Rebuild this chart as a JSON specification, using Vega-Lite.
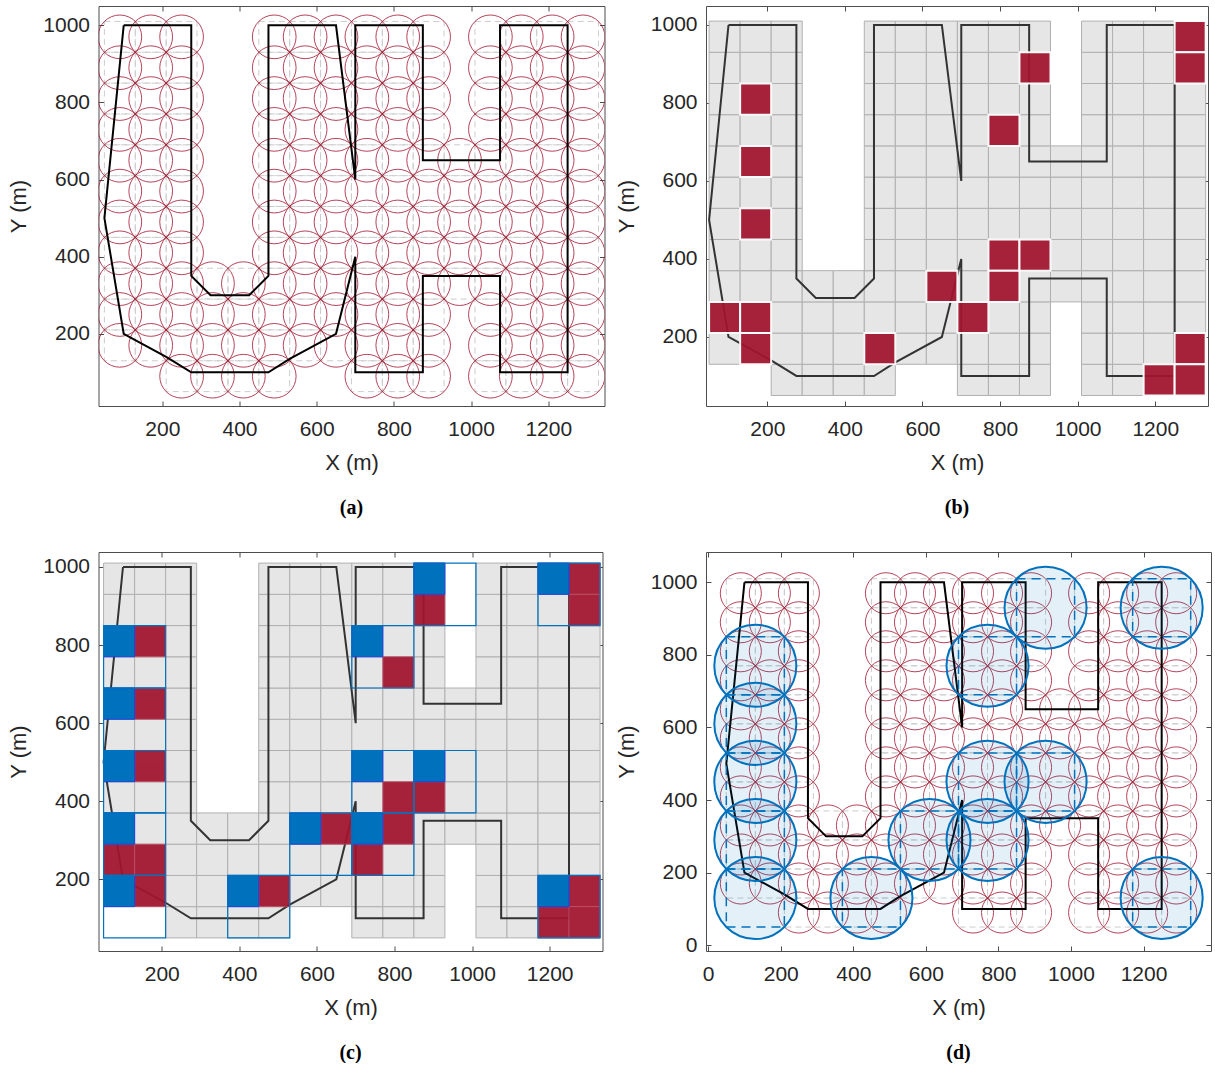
{
"$schema": "https://vega.github.io/schema/vega-lite/v6.json",
"padding": {"left": 7.5, "top": 5, "right": 0, "bottom": 0},
"bounds": "flush",
"columns": 2,
"spacing": {"row": 146, "column": 101.5},
"datasets": {
"cells": [
{"x0":50,"x1":130,"cx":90,"y0":130,"y1":210,"cy":170},{"x0":50,"x1":130,"cx":90,"y0":210,"y1":290,"cy":250},{"x0":50,"x1":130,"cx":90,"y0":290,"y1":370,"cy":330},{"x0":50,"x1":130,"cx":90,"y0":370,"y1":450,"cy":410},{"x0":50,"x1":130,"cx":90,"y0":450,"y1":530,"cy":490},{"x0":50,"x1":130,"cx":90,"y0":530,"y1":610,"cy":570},{"x0":50,"x1":130,"cx":90,"y0":610,"y1":690,"cy":650},{"x0":50,"x1":130,"cx":90,"y0":690,"y1":770,"cy":730},{"x0":50,"x1":130,"cx":90,"y0":770,"y1":850,"cy":810},{"x0":50,"x1":130,"cx":90,"y0":850,"y1":930,"cy":890},{"x0":50,"x1":130,"cx":90,"y0":930,"y1":1010,"cy":970},
{"x0":130,"x1":210,"cx":170,"y0":130,"y1":210,"cy":170},{"x0":130,"x1":210,"cx":170,"y0":210,"y1":290,"cy":250},{"x0":130,"x1":210,"cx":170,"y0":290,"y1":370,"cy":330},{"x0":130,"x1":210,"cx":170,"y0":370,"y1":450,"cy":410},{"x0":130,"x1":210,"cx":170,"y0":450,"y1":530,"cy":490},{"x0":130,"x1":210,"cx":170,"y0":530,"y1":610,"cy":570},{"x0":130,"x1":210,"cx":170,"y0":610,"y1":690,"cy":650},{"x0":130,"x1":210,"cx":170,"y0":690,"y1":770,"cy":730},{"x0":130,"x1":210,"cx":170,"y0":770,"y1":850,"cy":810},{"x0":130,"x1":210,"cx":170,"y0":850,"y1":930,"cy":890},{"x0":130,"x1":210,"cx":170,"y0":930,"y1":1010,"cy":970},
{"x0":210,"x1":290,"cx":250,"y0":50,"y1":130,"cy":90},{"x0":210,"x1":290,"cx":250,"y0":130,"y1":210,"cy":170},{"x0":210,"x1":290,"cx":250,"y0":210,"y1":290,"cy":250},{"x0":210,"x1":290,"cx":250,"y0":290,"y1":370,"cy":330},{"x0":210,"x1":290,"cx":250,"y0":370,"y1":450,"cy":410},{"x0":210,"x1":290,"cx":250,"y0":450,"y1":530,"cy":490},{"x0":210,"x1":290,"cx":250,"y0":530,"y1":610,"cy":570},{"x0":210,"x1":290,"cx":250,"y0":610,"y1":690,"cy":650},{"x0":210,"x1":290,"cx":250,"y0":690,"y1":770,"cy":730},{"x0":210,"x1":290,"cx":250,"y0":770,"y1":850,"cy":810},{"x0":210,"x1":290,"cx":250,"y0":850,"y1":930,"cy":890},{"x0":210,"x1":290,"cx":250,"y0":930,"y1":1010,"cy":970},
{"x0":290,"x1":370,"cx":330,"y0":50,"y1":130,"cy":90},{"x0":290,"x1":370,"cx":330,"y0":130,"y1":210,"cy":170},{"x0":290,"x1":370,"cx":330,"y0":210,"y1":290,"cy":250},{"x0":290,"x1":370,"cx":330,"y0":290,"y1":370,"cy":330},
{"x0":370,"x1":450,"cx":410,"y0":50,"y1":130,"cy":90},{"x0":370,"x1":450,"cx":410,"y0":130,"y1":210,"cy":170},{"x0":370,"x1":450,"cx":410,"y0":210,"y1":290,"cy":250},{"x0":370,"x1":450,"cx":410,"y0":290,"y1":370,"cy":330},
{"x0":450,"x1":530,"cx":490,"y0":50,"y1":130,"cy":90},{"x0":450,"x1":530,"cx":490,"y0":130,"y1":210,"cy":170},{"x0":450,"x1":530,"cx":490,"y0":210,"y1":290,"cy":250},{"x0":450,"x1":530,"cx":490,"y0":290,"y1":370,"cy":330},{"x0":450,"x1":530,"cx":490,"y0":370,"y1":450,"cy":410},{"x0":450,"x1":530,"cx":490,"y0":450,"y1":530,"cy":490},{"x0":450,"x1":530,"cx":490,"y0":530,"y1":610,"cy":570},{"x0":450,"x1":530,"cx":490,"y0":610,"y1":690,"cy":650},{"x0":450,"x1":530,"cx":490,"y0":690,"y1":770,"cy":730},{"x0":450,"x1":530,"cx":490,"y0":770,"y1":850,"cy":810},{"x0":450,"x1":530,"cx":490,"y0":850,"y1":930,"cy":890},{"x0":450,"x1":530,"cx":490,"y0":930,"y1":1010,"cy":970},
{"x0":530,"x1":610,"cx":570,"y0":130,"y1":210,"cy":170},{"x0":530,"x1":610,"cx":570,"y0":210,"y1":290,"cy":250},{"x0":530,"x1":610,"cx":570,"y0":290,"y1":370,"cy":330},{"x0":530,"x1":610,"cx":570,"y0":370,"y1":450,"cy":410},{"x0":530,"x1":610,"cx":570,"y0":450,"y1":530,"cy":490},{"x0":530,"x1":610,"cx":570,"y0":530,"y1":610,"cy":570},{"x0":530,"x1":610,"cx":570,"y0":610,"y1":690,"cy":650},{"x0":530,"x1":610,"cx":570,"y0":690,"y1":770,"cy":730},{"x0":530,"x1":610,"cx":570,"y0":770,"y1":850,"cy":810},{"x0":530,"x1":610,"cx":570,"y0":850,"y1":930,"cy":890},{"x0":530,"x1":610,"cx":570,"y0":930,"y1":1010,"cy":970},
{"x0":610,"x1":690,"cx":650,"y0":130,"y1":210,"cy":170},{"x0":610,"x1":690,"cx":650,"y0":210,"y1":290,"cy":250},{"x0":610,"x1":690,"cx":650,"y0":290,"y1":370,"cy":330},{"x0":610,"x1":690,"cx":650,"y0":370,"y1":450,"cy":410},{"x0":610,"x1":690,"cx":650,"y0":450,"y1":530,"cy":490},{"x0":610,"x1":690,"cx":650,"y0":530,"y1":610,"cy":570},{"x0":610,"x1":690,"cx":650,"y0":610,"y1":690,"cy":650},{"x0":610,"x1":690,"cx":650,"y0":690,"y1":770,"cy":730},{"x0":610,"x1":690,"cx":650,"y0":770,"y1":850,"cy":810},{"x0":610,"x1":690,"cx":650,"y0":850,"y1":930,"cy":890},{"x0":610,"x1":690,"cx":650,"y0":930,"y1":1010,"cy":970},
{"x0":690,"x1":770,"cx":730,"y0":50,"y1":130,"cy":90},{"x0":690,"x1":770,"cx":730,"y0":130,"y1":210,"cy":170},{"x0":690,"x1":770,"cx":730,"y0":210,"y1":290,"cy":250},{"x0":690,"x1":770,"cx":730,"y0":290,"y1":370,"cy":330},{"x0":690,"x1":770,"cx":730,"y0":370,"y1":450,"cy":410},{"x0":690,"x1":770,"cx":730,"y0":450,"y1":530,"cy":490},{"x0":690,"x1":770,"cx":730,"y0":530,"y1":610,"cy":570},{"x0":690,"x1":770,"cx":730,"y0":610,"y1":690,"cy":650},{"x0":690,"x1":770,"cx":730,"y0":690,"y1":770,"cy":730},{"x0":690,"x1":770,"cx":730,"y0":770,"y1":850,"cy":810},{"x0":690,"x1":770,"cx":730,"y0":850,"y1":930,"cy":890},{"x0":690,"x1":770,"cx":730,"y0":930,"y1":1010,"cy":970},
{"x0":770,"x1":850,"cx":810,"y0":50,"y1":130,"cy":90},{"x0":770,"x1":850,"cx":810,"y0":130,"y1":210,"cy":170},{"x0":770,"x1":850,"cx":810,"y0":210,"y1":290,"cy":250},{"x0":770,"x1":850,"cx":810,"y0":290,"y1":370,"cy":330},{"x0":770,"x1":850,"cx":810,"y0":370,"y1":450,"cy":410},{"x0":770,"x1":850,"cx":810,"y0":450,"y1":530,"cy":490},{"x0":770,"x1":850,"cx":810,"y0":530,"y1":610,"cy":570},{"x0":770,"x1":850,"cx":810,"y0":610,"y1":690,"cy":650},{"x0":770,"x1":850,"cx":810,"y0":690,"y1":770,"cy":730},{"x0":770,"x1":850,"cx":810,"y0":770,"y1":850,"cy":810},{"x0":770,"x1":850,"cx":810,"y0":850,"y1":930,"cy":890},{"x0":770,"x1":850,"cx":810,"y0":930,"y1":1010,"cy":970},
{"x0":850,"x1":930,"cx":890,"y0":50,"y1":130,"cy":90},{"x0":850,"x1":930,"cx":890,"y0":130,"y1":210,"cy":170},{"x0":850,"x1":930,"cx":890,"y0":210,"y1":290,"cy":250},{"x0":850,"x1":930,"cx":890,"y0":290,"y1":370,"cy":330},{"x0":850,"x1":930,"cx":890,"y0":370,"y1":450,"cy":410},{"x0":850,"x1":930,"cx":890,"y0":450,"y1":530,"cy":490},{"x0":850,"x1":930,"cx":890,"y0":530,"y1":610,"cy":570},{"x0":850,"x1":930,"cx":890,"y0":610,"y1":690,"cy":650},{"x0":850,"x1":930,"cx":890,"y0":690,"y1":770,"cy":730},{"x0":850,"x1":930,"cx":890,"y0":770,"y1":850,"cy":810},{"x0":850,"x1":930,"cx":890,"y0":850,"y1":930,"cy":890},{"x0":850,"x1":930,"cx":890,"y0":930,"y1":1010,"cy":970},
{"x0":930,"x1":1010,"cx":970,"y0":290,"y1":370,"cy":330},{"x0":930,"x1":1010,"cx":970,"y0":370,"y1":450,"cy":410},{"x0":930,"x1":1010,"cx":970,"y0":450,"y1":530,"cy":490},{"x0":930,"x1":1010,"cx":970,"y0":530,"y1":610,"cy":570},{"x0":930,"x1":1010,"cx":970,"y0":610,"y1":690,"cy":650},
{"x0":1010,"x1":1090,"cx":1050,"y0":50,"y1":130,"cy":90},{"x0":1010,"x1":1090,"cx":1050,"y0":130,"y1":210,"cy":170},{"x0":1010,"x1":1090,"cx":1050,"y0":210,"y1":290,"cy":250},{"x0":1010,"x1":1090,"cx":1050,"y0":290,"y1":370,"cy":330},{"x0":1010,"x1":1090,"cx":1050,"y0":370,"y1":450,"cy":410},{"x0":1010,"x1":1090,"cx":1050,"y0":450,"y1":530,"cy":490},{"x0":1010,"x1":1090,"cx":1050,"y0":530,"y1":610,"cy":570},{"x0":1010,"x1":1090,"cx":1050,"y0":610,"y1":690,"cy":650},{"x0":1010,"x1":1090,"cx":1050,"y0":690,"y1":770,"cy":730},{"x0":1010,"x1":1090,"cx":1050,"y0":770,"y1":850,"cy":810},{"x0":1010,"x1":1090,"cx":1050,"y0":850,"y1":930,"cy":890},{"x0":1010,"x1":1090,"cx":1050,"y0":930,"y1":1010,"cy":970},
{"x0":1090,"x1":1170,"cx":1130,"y0":50,"y1":130,"cy":90},{"x0":1090,"x1":1170,"cx":1130,"y0":130,"y1":210,"cy":170},{"x0":1090,"x1":1170,"cx":1130,"y0":210,"y1":290,"cy":250},{"x0":1090,"x1":1170,"cx":1130,"y0":290,"y1":370,"cy":330},{"x0":1090,"x1":1170,"cx":1130,"y0":370,"y1":450,"cy":410},{"x0":1090,"x1":1170,"cx":1130,"y0":450,"y1":530,"cy":490},{"x0":1090,"x1":1170,"cx":1130,"y0":530,"y1":610,"cy":570},{"x0":1090,"x1":1170,"cx":1130,"y0":610,"y1":690,"cy":650},{"x0":1090,"x1":1170,"cx":1130,"y0":690,"y1":770,"cy":730},{"x0":1090,"x1":1170,"cx":1130,"y0":770,"y1":850,"cy":810},{"x0":1090,"x1":1170,"cx":1130,"y0":850,"y1":930,"cy":890},{"x0":1090,"x1":1170,"cx":1130,"y0":930,"y1":1010,"cy":970},
{"x0":1170,"x1":1250,"cx":1210,"y0":50,"y1":130,"cy":90},{"x0":1170,"x1":1250,"cx":1210,"y0":130,"y1":210,"cy":170},{"x0":1170,"x1":1250,"cx":1210,"y0":210,"y1":290,"cy":250},{"x0":1170,"x1":1250,"cx":1210,"y0":290,"y1":370,"cy":330},{"x0":1170,"x1":1250,"cx":1210,"y0":370,"y1":450,"cy":410},{"x0":1170,"x1":1250,"cx":1210,"y0":450,"y1":530,"cy":490},{"x0":1170,"x1":1250,"cx":1210,"y0":530,"y1":610,"cy":570},{"x0":1170,"x1":1250,"cx":1210,"y0":610,"y1":690,"cy":650},{"x0":1170,"x1":1250,"cx":1210,"y0":690,"y1":770,"cy":730},{"x0":1170,"x1":1250,"cx":1210,"y0":770,"y1":850,"cy":810},{"x0":1170,"x1":1250,"cx":1210,"y0":850,"y1":930,"cy":890},{"x0":1170,"x1":1250,"cx":1210,"y0":930,"y1":1010,"cy":970},
{"x0":1250,"x1":1330,"cx":1290,"y0":50,"y1":130,"cy":90},{"x0":1250,"x1":1330,"cx":1290,"y0":130,"y1":210,"cy":170},{"x0":1250,"x1":1330,"cx":1290,"y0":210,"y1":290,"cy":250},{"x0":1250,"x1":1330,"cx":1290,"y0":290,"y1":370,"cy":330},{"x0":1250,"x1":1330,"cx":1290,"y0":370,"y1":450,"cy":410},{"x0":1250,"x1":1330,"cx":1290,"y0":450,"y1":530,"cy":490},{"x0":1250,"x1":1330,"cx":1290,"y0":530,"y1":610,"cy":570},{"x0":1250,"x1":1330,"cx":1290,"y0":610,"y1":690,"cy":650},{"x0":1250,"x1":1330,"cx":1290,"y0":690,"y1":770,"cy":730},{"x0":1250,"x1":1330,"cx":1290,"y0":770,"y1":850,"cy":810},{"x0":1250,"x1":1330,"cx":1290,"y0":850,"y1":930,"cy":890},{"x0":1250,"x1":1330,"cx":1290,"y0":930,"y1":1010,"cy":970}
],
"path": [
{"o":1,"x":100,"y":1000},{"o":2,"x":275,"y":1000},{"o":3,"x":275,"y":350},{"o":4,"x":325,"y":300},{"o":5,"x":425,"y":300},{"o":6,"x":475,"y":350},{"o":7,"x":475,"y":1000},{"o":8,"x":650,"y":1000},{"o":9,"x":700,"y":600},{"o":10,"x":700,"y":1000},{"o":11,"x":875,"y":1000},{"o":12,"x":875,"y":650},{"o":13,"x":1075,"y":650},{"o":14,"x":1075,"y":1000},{"o":15,"x":1250,"y":1000},{"o":16,"x":1250,"y":100},{"o":17,"x":1075,"y":100},{"o":18,"x":1075,"y":350},{"o":19,"x":875,"y":350},{"o":20,"x":875,"y":100},{"o":21,"x":700,"y":100},{"o":22,"x":700,"y":400},{"o":23,"x":650,"y":200},{"o":24,"x":530,"y":135},{"o":25,"x":475,"y":100},{"o":26,"x":275,"y":100},{"o":27,"x":210,"y":140},{"o":28,"x":100,"y":200},{"o":29,"x":50,"y":500},{"o":30,"x":100,"y":1000}
],
"red": [
{"x0":130,"x1":210,"y0":770,"y1":850},{"x0":130,"x1":210,"y0":610,"y1":690},{"x0":130,"x1":210,"y0":450,"y1":530},{"x0":50,"x1":130,"y0":210,"y1":290},{"x0":130,"x1":210,"y0":210,"y1":290},{"x0":130,"x1":210,"y0":130,"y1":210},{"x0":450,"x1":530,"y0":130,"y1":210},{"x0":610,"x1":690,"y0":290,"y1":370},{"x0":690,"x1":770,"y0":210,"y1":290},{"x0":770,"x1":850,"y0":370,"y1":450},{"x0":770,"x1":850,"y0":290,"y1":370},{"x0":850,"x1":930,"y0":370,"y1":450},{"x0":770,"x1":850,"y0":690,"y1":770},{"x0":850,"x1":930,"y0":850,"y1":930},{"x0":1250,"x1":1330,"y0":930,"y1":1010},{"x0":1250,"x1":1330,"y0":850,"y1":930},{"x0":1250,"x1":1330,"y0":130,"y1":210},{"x0":1170,"x1":1250,"y0":50,"y1":130},{"x0":1250,"x1":1330,"y0":50,"y1":130}
],
"blue": [
{"x0":50,"x1":130,"y0":770,"y1":850},{"x0":50,"x1":130,"y0":610,"y1":690},{"x0":50,"x1":130,"y0":450,"y1":530},{"x0":50,"x1":130,"y0":290,"y1":370},{"x0":50,"x1":130,"y0":130,"y1":210},{"x0":370,"x1":450,"y0":130,"y1":210},{"x0":530,"x1":610,"y0":290,"y1":370},{"x0":690,"x1":770,"y0":290,"y1":370},{"x0":690,"x1":770,"y0":450,"y1":530},{"x0":850,"x1":930,"y0":450,"y1":530},{"x0":690,"x1":770,"y0":770,"y1":850},{"x0":850,"x1":930,"y0":930,"y1":1010},{"x0":1170,"x1":1250,"y0":930,"y1":1010},{"x0":1170,"x1":1250,"y0":130,"y1":210}
],
"blocks": [
{"x0":50,"x1":210,"y0":690,"y1":850,"cx":130,"cy":770},{"x0":50,"x1":210,"y0":530,"y1":690,"cx":130,"cy":610},{"x0":50,"x1":210,"y0":370,"y1":530,"cx":130,"cy":450},{"x0":50,"x1":210,"y0":210,"y1":370,"cx":130,"cy":290},{"x0":50,"x1":210,"y0":50,"y1":210,"cx":130,"cy":130},{"x0":370,"x1":530,"y0":50,"y1":210,"cx":450,"cy":130},{"x0":530,"x1":690,"y0":210,"y1":370,"cx":610,"cy":290},{"x0":690,"x1":850,"y0":210,"y1":370,"cx":770,"cy":290},{"x0":690,"x1":850,"y0":370,"y1":530,"cx":770,"cy":450},{"x0":850,"x1":1010,"y0":370,"y1":530,"cx":930,"cy":450},{"x0":690,"x1":850,"y0":690,"y1":850,"cx":770,"cy":770},{"x0":850,"x1":1010,"y0":850,"y1":1010,"cx":930,"cy":930},{"x0":1170,"x1":1330,"y0":850,"y1":1010,"cx":1250,"cy":930},{"x0":1170,"x1":1330,"y0":50,"y1":210,"cx":1250,"cy":130}
]
},
"concat": [
{
"width": 506, "height": 400,
"title": {"text": "(a)", "orient": "bottom", "anchor": "middle", "offset": 25},
"resolve": {"axis": {"x": "independent", "y": "independent"}},
"layer": [
{"data": {"name": "cells"}, "mark": {"type": "rect", "fill": null, "stroke": "#cccccc", "strokeDash": [6, 4], "strokeWidth": 1, "clip": true},
"encoding": {
"x": {"field": "x0", "type": "quantitative", "scale": {"domain": [34.7, 1345.6], "nice": false, "zero": false}, "axis": {"orient": "bottom", "values": [200, 400, 600, 800, 1000, 1200], "format": "d", "title": "X (m)"}},
"x2": {"field": "x1"},
"y": {"field": "y0", "type": "quantitative", "scale": {"domain": [12.7, 1050], "nice": false, "zero": false}, "axis": {"orient": "left", "values": [200, 400, 600, 800, 1000], "format": "d", "title": "Y (m)"}},
"y2": {"field": "y1"}}},
{"data": {"name": "cells"}, "mark": {"type": "point", "shape": "circle", "filled": false, "stroke": "#a2142f", "strokeWidth": 0.8, "size": 1907, "opacity": 1, "clip": true},
"encoding": {
"x": {"field": "cx", "type": "quantitative", "scale": {"domain": [34.7, 1345.6], "nice": false, "zero": false}, "axis": {"orient": "top", "values": [200, 400, 600, 800, 1000, 1200], "labels": false, "title": null}},
"y": {"field": "cy", "type": "quantitative", "scale": {"domain": [12.7, 1050], "nice": false, "zero": false}, "axis": {"orient": "right", "values": [200, 400, 600, 800, 1000], "labels": false, "title": null}}}},
{"data": {"name": "path"}, "mark": {"type": "line", "color": "#000000", "strokeWidth": 2, "clip": true},
"encoding": {
"x": {"field": "x", "type": "quantitative", "scale": {"domain": [34.7, 1345.6], "nice": false, "zero": false}, "axis": null},
"y": {"field": "y", "type": "quantitative", "scale": {"domain": [12.7, 1050], "nice": false, "zero": false}, "axis": null},
"order": {"field": "o", "type": "quantitative"}}}
]
},
{
"width": 502, "height": 400,
"title": {"text": "(b)", "orient": "bottom", "anchor": "middle", "offset": 25},
"resolve": {"axis": {"x": "independent", "y": "independent"}},
"layer": [
{"data": {"name": "cells"}, "mark": {"type": "rect", "fill": "#e6e6e6", "stroke": "#b0b0b0", "strokeWidth": 1, "clip": true},
"encoding": {
"x": {"field": "x0", "type": "quantitative", "scale": {"domain": [42, 1336], "nice": false, "zero": false}, "axis": {"orient": "bottom", "values": [200, 400, 600, 800, 1000, 1200], "format": "d", "title": "X (m)"}},
"x2": {"field": "x1"},
"y": {"field": "y0", "type": "quantitative", "scale": {"domain": [23, 1048.7], "nice": false, "zero": false}, "axis": {"orient": "left", "values": [200, 400, 600, 800, 1000], "format": "d", "title": "Y (m)"}},
"y2": {"field": "y1"}}},
{"data": {"name": "path"}, "mark": {"type": "line", "color": "#333333", "strokeWidth": 2, "clip": true},
"encoding": {
"x": {"field": "x", "type": "quantitative", "scale": {"domain": [42, 1336], "nice": false, "zero": false}, "axis": {"orient": "top", "values": [200, 400, 600, 800, 1000, 1200], "labels": false, "title": null}},
"y": {"field": "y", "type": "quantitative", "scale": {"domain": [23, 1048.7], "nice": false, "zero": false}, "axis": {"orient": "right", "values": [200, 400, 600, 800, 1000], "labels": false, "title": null}},
"order": {"field": "o", "type": "quantitative"}}},
{"data": {"name": "red"}, "mark": {"type": "rect", "fill": "#a2142f", "opacity": 0.93, "stroke": "#ffffff", "strokeWidth": 2, "clip": true},
"encoding": {
"x": {"field": "x0", "type": "quantitative", "scale": {"domain": [42, 1336], "nice": false, "zero": false}, "axis": null},
"x2": {"field": "x1"},
"y": {"field": "y0", "type": "quantitative", "scale": {"domain": [23, 1048.7], "nice": false, "zero": false}, "axis": null},
"y2": {"field": "y1"}}}
]
},
{
"width": 504, "height": 399,
"title": {"text": "(c)", "orient": "bottom", "anchor": "middle", "offset": 25},
"resolve": {"axis": {"x": "independent", "y": "independent"}},
"layer": [
{"data": {"name": "cells"}, "mark": {"type": "rect", "fill": "#e6e6e6", "stroke": "#b0b0b0", "strokeWidth": 1, "clip": true},
"encoding": {
"x": {"field": "x0", "type": "quantitative", "scale": {"domain": [36.9, 1336.3], "nice": false, "zero": false}, "axis": {"orient": "bottom", "values": [200, 400, 600, 800, 1000, 1200], "format": "d", "title": "X (m)"}},
"x2": {"field": "x1"},
"y": {"field": "y0", "type": "quantitative", "scale": {"domain": [16.4, 1038.4], "nice": false, "zero": false}, "axis": {"orient": "left", "values": [200, 400, 600, 800, 1000], "format": "d", "title": "Y (m)"}},
"y2": {"field": "y1"}}},
{"data": {"name": "path"}, "mark": {"type": "line", "color": "#333333", "strokeWidth": 2, "clip": true},
"encoding": {
"x": {"field": "x", "type": "quantitative", "scale": {"domain": [36.9, 1336.3], "nice": false, "zero": false}, "axis": {"orient": "top", "values": [200, 400, 600, 800, 1000, 1200], "labels": false, "title": null}},
"y": {"field": "y", "type": "quantitative", "scale": {"domain": [16.4, 1038.4], "nice": false, "zero": false}, "axis": {"orient": "right", "values": [200, 400, 600, 800, 1000], "labels": false, "title": null}},
"order": {"field": "o", "type": "quantitative"}}},
{"data": {"name": "red"}, "mark": {"type": "rect", "fill": "#a2142f", "opacity": 0.93, "stroke": "#c0506a", "strokeWidth": 0.8, "clip": true},
"encoding": {
"x": {"field": "x0", "type": "quantitative", "scale": {"domain": [36.9, 1336.3], "nice": false, "zero": false}, "axis": null},
"x2": {"field": "x1"},
"y": {"field": "y0", "type": "quantitative", "scale": {"domain": [16.4, 1038.4], "nice": false, "zero": false}, "axis": null},
"y2": {"field": "y1"}}},
{"data": {"name": "blue"}, "mark": {"type": "rect", "fill": "#0072bd", "stroke": "#1a3fe0", "strokeWidth": 1, "clip": true},
"encoding": {
"x": {"field": "x0", "type": "quantitative", "scale": {"domain": [36.9, 1336.3], "nice": false, "zero": false}, "axis": null},
"x2": {"field": "x1"},
"y": {"field": "y0", "type": "quantitative", "scale": {"domain": [16.4, 1038.4], "nice": false, "zero": false}, "axis": null},
"y2": {"field": "y1"}}},
{"data": {"name": "blocks"}, "mark": {"type": "rect", "fill": null, "stroke": "#0072bd", "strokeWidth": 1.2, "clip": true},
"encoding": {
"x": {"field": "x0", "type": "quantitative", "scale": {"domain": [36.9, 1336.3], "nice": false, "zero": false}, "axis": null},
"x2": {"field": "x1"},
"y": {"field": "y0", "type": "quantitative", "scale": {"domain": [16.4, 1038.4], "nice": false, "zero": false}, "axis": null},
"y2": {"field": "y1"}}}
]
},
{
"width": 505, "height": 399,
"title": {"text": "(d)", "orient": "bottom", "anchor": "middle", "offset": 25},
"resolve": {"axis": {"x": "independent", "y": "independent"}},
"layer": [
{"data": {"name": "cells"}, "mark": {"type": "rect", "fill": null, "stroke": "#cccccc", "strokeDash": [6, 4], "strokeWidth": 1, "clip": true},
"encoding": {
"x": {"field": "x0", "type": "quantitative", "scale": {"domain": [-6, 1386], "nice": false, "zero": false}, "axis": {"orient": "bottom", "values": [0, 200, 400, 600, 800, 1000, 1200], "format": "d", "title": "X (m)"}},
"x2": {"field": "x1"},
"y": {"field": "y0", "type": "quantitative", "scale": {"domain": [-16, 1083.6], "nice": false, "zero": false}, "axis": {"orient": "left", "values": [0, 200, 400, 600, 800, 1000], "format": "d", "title": "Y (m)"}},
"y2": {"field": "y1"}}},
{"data": {"name": "cells"}, "mark": {"type": "point", "shape": "circle", "filled": false, "stroke": "#a2142f", "strokeWidth": 0.8, "size": 1685, "opacity": 1, "clip": true},
"encoding": {
"x": {"field": "cx", "type": "quantitative", "scale": {"domain": [-6, 1386], "nice": false, "zero": false}, "axis": {"orient": "top", "values": [0, 200, 400, 600, 800, 1000, 1200], "labels": false, "title": null}},
"y": {"field": "cy", "type": "quantitative", "scale": {"domain": [-16, 1083.6], "nice": false, "zero": false}, "axis": {"orient": "right", "values": [0, 200, 400, 600, 800, 1000], "labels": false, "title": null}}}},
{"data": {"name": "path"}, "mark": {"type": "line", "color": "#000000", "strokeWidth": 2, "clip": true},
"encoding": {
"x": {"field": "x", "type": "quantitative", "scale": {"domain": [-6, 1386], "nice": false, "zero": false}, "axis": null},
"y": {"field": "y", "type": "quantitative", "scale": {"domain": [-16, 1083.6], "nice": false, "zero": false}, "axis": null},
"order": {"field": "o", "type": "quantitative"}}},
{"data": {"name": "blocks"}, "mark": {"type": "point", "shape": "circle", "filled": true, "fill": "#0072bd", "fillOpacity": 0.11, "stroke": "#0072bd", "strokeOpacity": 1, "strokeWidth": 2, "size": 6739, "opacity": 1, "clip": true},
"encoding": {
"x": {"field": "cx", "type": "quantitative", "scale": {"domain": [-6, 1386], "nice": false, "zero": false}, "axis": null},
"y": {"field": "cy", "type": "quantitative", "scale": {"domain": [-16, 1083.6], "nice": false, "zero": false}, "axis": null}}},
{"data": {"name": "blocks"}, "mark": {"type": "rect", "fill": null, "stroke": "#0072bd", "strokeDash": [9, 6], "strokeWidth": 1.5, "clip": true},
"encoding": {
"x": {"field": "x0", "type": "quantitative", "scale": {"domain": [-6, 1386], "nice": false, "zero": false}, "axis": null},
"x2": {"field": "x1"},
"y": {"field": "y0", "type": "quantitative", "scale": {"domain": [-16, 1083.6], "nice": false, "zero": false}, "axis": null},
"y2": {"field": "y1"}}}
]
}
],
"config": {
"view": {"stroke": null},
"font": "Liberation Sans",
"axis": {"grid": false, "domainColor": "#4d4d4d", "domainWidth": 1, "tickColor": "#4d4d4d", "tickSize": -5, "tickWidth": 1, "labelFont": "Liberation Sans", "labelFontSize": 21, "labelColor": "#262626", "titleFont": "Liberation Sans", "titleFontSize": 22, "titleFontWeight": "normal", "titleColor": "#262626", "zindex": 1},
"axisX": {"labelPadding": 17, "titlePadding": 13},
"axisY": {"labelPadding": 14, "titlePadding": 12},
"title": {"font": "Liberation Serif", "fontSize": 20, "fontWeight": "bold", "color": "#000000"}
}
}
